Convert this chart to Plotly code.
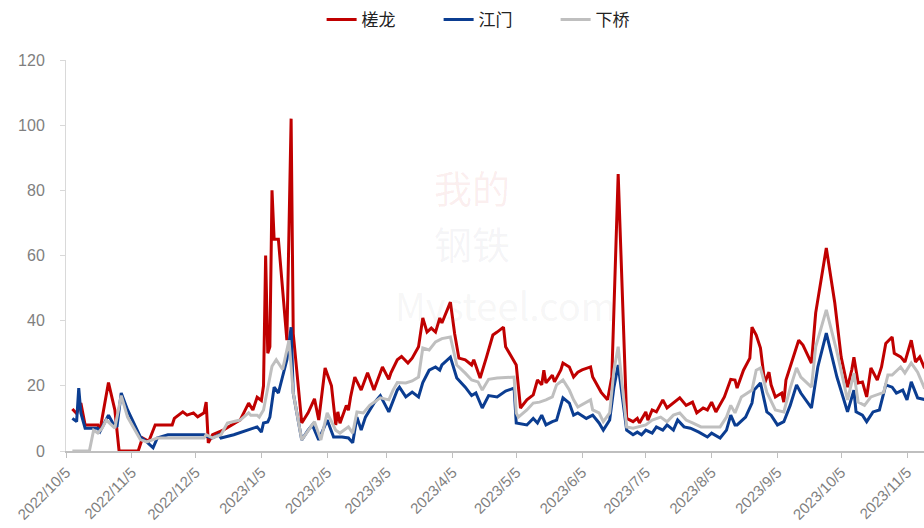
import plotly.graph_objects as go

# ---------------- data ----------------
tick_dates = ["2022-10-05", "2022-11-05", "2022-12-05", "2023-01-05", "2023-02-05", "2023-03-05",
              "2023-04-05", "2023-05-05", "2023-06-05", "2023-07-05", "2023-08-05", "2023-09-05",
              "2023-10-05", "2023-11-05"]
tick_labels = ["2022/10/5", "2022/11/5", "2022/12/5", "2023/1/5", "2023/2/5", "2023/3/5",
               "2023/4/5", "2023/5/5", "2023/6/5", "2023/7/5", "2023/8/5", "2023/9/5",
               "2023/10/5", "2023/11/5"]

series_names = ["槎龙", "江门", "下桥"]

red_dates = ["2022-10-08", "2022-10-10", "2022-10-12", "2022-10-14", "2022-10-20", "2022-10-21", "2022-10-25",
             "2022-10-28", "2022-10-30", "2022-11-08", "2022-11-10", "2022-11-13", "2022-11-16", "2022-11-24",
             "2022-11-25", "2022-11-28", "2022-11-29", "2022-12-01", "2022-12-04", "2022-12-06", "2022-12-09",
             "2022-12-10", "2022-12-11", "2022-12-13", "2022-12-18", "2022-12-26", "2022-12-30", "2023-01-01",
             "2023-01-03", "2023-01-05", "2023-01-06", "2023-01-07", "2023-01-08", "2023-01-09", "2023-01-10",
             "2023-01-11", "2023-01-13", "2023-01-17", "2023-01-19", "2023-01-20", "2023-01-24", "2023-01-27",
             "2023-01-30", "2023-02-01", "2023-02-04", "2023-02-07", "2023-02-09", "2023-02-10", "2023-02-11",
             "2023-02-14", "2023-02-15", "2023-02-16", "2023-02-18", "2023-02-21", "2023-02-24", "2023-02-27",
             "2023-03-03", "2023-03-06", "2023-03-07", "2023-03-10", "2023-03-12", "2023-03-15", "2023-03-17",
             "2023-03-20", "2023-03-22", "2023-03-24", "2023-03-26", "2023-03-28", "2023-03-30", "2023-03-31",
             "2023-04-04", "2023-04-06", "2023-04-08", "2023-04-11", "2023-04-14", "2023-04-15", "2023-04-18",
             "2023-04-21", "2023-04-24", "2023-04-26", "2023-04-29", "2023-04-30", "2023-05-03", "2023-05-05",
             "2023-05-07", "2023-05-10", "2023-05-13", "2023-05-15", "2023-05-17", "2023-05-18", "2023-05-19",
             "2023-05-22", "2023-05-23", "2023-05-26", "2023-05-27", "2023-05-30", "2023-06-01", "2023-06-03",
             "2023-06-05", "2023-06-09", "2023-06-10", "2023-06-12", "2023-06-14", "2023-06-17", "2023-06-19",
             "2023-06-22", "2023-06-26", "2023-06-29", "2023-07-01", "2023-07-02", "2023-07-05", "2023-07-06",
             "2023-07-08", "2023-07-10", "2023-07-13", "2023-07-15", "2023-07-18", "2023-07-21", "2023-07-24",
             "2023-07-27", "2023-07-29", "2023-08-01", "2023-08-03", "2023-08-05", "2023-08-07", "2023-08-11",
             "2023-08-14", "2023-08-16", "2023-08-17", "2023-08-20", "2023-08-23", "2023-08-24", "2023-08-26",
             "2023-08-28", "2023-08-30", "2023-09-01", "2023-09-02", "2023-09-04", "2023-09-07", "2023-09-08",
             "2023-09-09", "2023-09-11", "2023-09-14", "2023-09-15", "2023-09-17", "2023-09-21", "2023-09-23",
             "2023-09-28", "2023-10-02", "2023-10-05", "2023-10-08", "2023-10-10", "2023-10-11", "2023-10-13",
             "2023-10-15", "2023-10-17", "2023-10-19", "2023-10-22", "2023-10-24", "2023-10-26", "2023-10-29",
             "2023-10-30", "2023-11-02", "2023-11-04", "2023-11-07", "2023-11-09", "2023-11-11", "2023-11-13",
             "2023-11-14"]
red_values = [12.9, 11.5, 14.7, 8, 8, 6.4, 21,
              12.6, 0, 0, 4, 3, 8, 8,
              10, 11.7, 12, 11, 11.7, 10.5, 11.7,
              15, 2.5, 5, 6.4, 9.5, 14.7, 12.6,
              16.5, 15.5, 20, 60, 30, 32, 80,
              65, 65, 34, 102, 36, 8.6, 11.7,
              16, 9.5, 25.5, 20, 8, 12, 8.5,
              14, 12.5, 16.6, 22.7, 18.7, 24, 18.7,
              25.8, 22, 24, 28, 29, 27, 28.5,
              32, 40.8, 36.5, 37.7, 36.5, 40.8, 39.3,
              45.7, 36, 28.5, 28, 26.4, 28, 22.4,
              28.8, 35.6, 36.5, 38, 32, 28.8, 26.4,
              13.2, 15.7, 17.2, 21.8, 20.3, 24.8, 20.9,
              23.3, 21.2, 24.9, 27, 25.8, 22.7, 24.2,
              24.9, 25.8, 22.7, 20.3, 18, 15.7, 22.7,
              85, 10, 9, 10, 8.6, 12, 9.5,
              12.6, 12, 15.7, 13.2, 14.7, 16.3, 14,
              15, 11.7, 13.2, 12.6, 15, 12, 16.6,
              22, 21.8, 19.3, 24.8, 28.5, 38, 35.6,
              31.6, 20.9, 24.2, 20.3, 16.6, 17.8, 15,
              21.8, 25.8, 32, 34, 32.5, 27, 42.4,
              62.3, 45.4, 28.8, 19.6, 24.9, 28.8, 20.9,
              21.2, 16.6, 25.5, 21.8, 25.8, 33, 35,
              30, 28.9, 27.3, 34, 27.3, 28.9, 25.8,
              25]

blue_dates = ["2022-10-08", "2022-10-10", "2022-10-11", "2022-10-12", "2022-10-14", "2022-10-20", "2022-10-21",
              "2022-10-25", "2022-10-27", "2022-10-29", "2022-10-31", "2022-11-03", "2022-11-09", "2022-11-12",
              "2022-11-15", "2022-11-17", "2022-11-22", "2022-12-09", "2022-12-10", "2022-12-13", "2022-12-16",
              "2022-12-17", "2022-12-23", "2022-12-29", "2023-01-01", "2023-01-03", "2023-01-05", "2023-01-06",
              "2023-01-08", "2023-01-09", "2023-01-11", "2023-01-13", "2023-01-17", "2023-01-19", "2023-01-20",
              "2023-01-24", "2023-01-27", "2023-01-29", "2023-02-01", "2023-02-05", "2023-02-08", "2023-02-12",
              "2023-02-15", "2023-02-17", "2023-02-19", "2023-02-21", "2023-02-23", "2023-02-27", "2023-03-02",
              "2023-03-04", "2023-03-06", "2023-03-10", "2023-03-11", "2023-03-14", "2023-03-17", "2023-03-20",
              "2023-03-22", "2023-03-25", "2023-03-28", "2023-03-30", "2023-03-31", "2023-04-04", "2023-04-07",
              "2023-04-11", "2023-04-14", "2023-04-16", "2023-04-19", "2023-04-22", "2023-04-26", "2023-04-30",
              "2023-05-04", "2023-05-05", "2023-05-10", "2023-05-13", "2023-05-15", "2023-05-17", "2023-05-19",
              "2023-05-22", "2023-05-24", "2023-05-27", "2023-05-30", "2023-06-01", "2023-06-03", "2023-06-07",
              "2023-06-10", "2023-06-13", "2023-06-15", "2023-06-18", "2023-06-20", "2023-06-22", "2023-06-24",
              "2023-06-26", "2023-06-29", "2023-07-01", "2023-07-03", "2023-07-05", "2023-07-08", "2023-07-10",
              "2023-07-13", "2023-07-15", "2023-07-18", "2023-07-20", "2023-07-23", "2023-07-26", "2023-07-30",
              "2023-08-03", "2023-08-05", "2023-08-09", "2023-08-12", "2023-08-14", "2023-08-16", "2023-08-17",
              "2023-08-21", "2023-08-24", "2023-08-25", "2023-08-28", "2023-08-31", "2023-09-02", "2023-09-05",
              "2023-09-08", "2023-09-11", "2023-09-14", "2023-09-16", "2023-09-21", "2023-09-24", "2023-09-28",
              "2023-10-03", "2023-10-08", "2023-10-11", "2023-10-12", "2023-10-15", "2023-10-17", "2023-10-20",
              "2023-10-23", "2023-10-26", "2023-10-29", "2023-10-31", "2023-11-03", "2023-11-05", "2023-11-07",
              "2023-11-10", "2023-11-13", "2023-11-14"]
blue_values = [10, 9, 19.3, 11.7, 7, 7, 6,
               11, 8.6, 7.4, 17.8, 12.6, 4.3, 2.8,
               1, 4, 5, 5, 4.5, 4, 5,
               4, 5, 6.4, 7, 7.4, 5.8, 8.6,
               8.9, 10.4, 19.6, 17.8, 28, 38, 17.8,
               3.4, 6.4, 8, 3.4, 9.5, 4.3, 4.3,
               4, 2.5, 10.4, 6.4, 10.4, 14.7, 17,
               14.7, 12, 18.7, 19.6, 16.6, 18.1, 16.6,
               21, 24.8, 25.8, 24.8, 26.4, 28.8, 22.4,
               19.6, 17, 17.8, 13.2, 17, 16.6, 18.4,
               19.3, 8.6, 8, 10, 8.6, 11, 8,
               9, 9.5, 16.3, 14.7, 11, 11.7, 10,
               11, 8.6, 6.4, 9.5, 19.6, 26.4, 15.7,
               6.4, 5, 5.8, 5, 6.4, 5.5, 7.4,
               6.4, 8, 6.4, 9.5, 7.4, 7, 5.8,
               4.3, 5.5, 4, 6.4, 11, 8, 8,
               10.4, 14.7, 18.7, 20.9, 12, 11, 8,
               9, 14, 20.3, 17.8, 13.2, 25.8, 36.2,
               22.7, 12, 18.7, 12, 11, 9, 12,
               12.6, 20.3, 19.6, 17.8, 18.7, 15.7, 21.2,
               16.3, 15.7, 15.7]

gray_dates = ["2022-10-08", "2022-10-16", "2022-10-18", "2022-10-20", "2022-10-22", "2022-10-24", "2022-10-28",
              "2022-10-31", "2022-11-03", "2022-11-09", "2022-11-12", "2022-11-17", "2022-12-09", "2022-12-10",
              "2022-12-13", "2022-12-17", "2022-12-20", "2022-12-26", "2022-12-30", "2022-12-31", "2023-01-03",
              "2023-01-04", "2023-01-06", "2023-01-10", "2023-01-12", "2023-01-15", "2023-01-18", "2023-01-20",
              "2023-01-24", "2023-01-28", "2023-01-30", "2023-02-02", "2023-02-05", "2023-02-09", "2023-02-11",
              "2023-02-15", "2023-02-17", "2023-02-19", "2023-02-22", "2023-02-25", "2023-03-02", "2023-03-06",
              "2023-03-08", "2023-03-10", "2023-03-14", "2023-03-17", "2023-03-20", "2023-03-22", "2023-03-25",
              "2023-03-28", "2023-03-31", "2023-04-04", "2023-04-07", "2023-04-11", "2023-04-14", "2023-04-17",
              "2023-04-19", "2023-04-22", "2023-04-26", "2023-05-04", "2023-05-05", "2023-05-06", "2023-05-10",
              "2023-05-13", "2023-05-16", "2023-05-19", "2023-05-22", "2023-05-24", "2023-05-27", "2023-05-30",
              "2023-06-01", "2023-06-03", "2023-06-06", "2023-06-09", "2023-06-10", "2023-06-13", "2023-06-15",
              "2023-06-18", "2023-06-20", "2023-06-22", "2023-06-24", "2023-06-26", "2023-06-29", "2023-07-02",
              "2023-07-05", "2023-07-08", "2023-07-12", "2023-07-15", "2023-07-18", "2023-07-21", "2023-07-24",
              "2023-07-27", "2023-07-31", "2023-08-04", "2023-08-09", "2023-08-12", "2023-08-14", "2023-08-16",
              "2023-08-19", "2023-08-24", "2023-08-26", "2023-08-28", "2023-08-31", "2023-09-04", "2023-09-08",
              "2023-09-11", "2023-09-14", "2023-09-16", "2023-09-21", "2023-09-23", "2023-09-28", "2023-10-03",
              "2023-10-08", "2023-10-11", "2023-10-13", "2023-10-16", "2023-10-19", "2023-10-25", "2023-10-27",
              "2023-10-29", "2023-11-02", "2023-11-04", "2023-11-07", "2023-11-10", "2023-11-13", "2023-11-14"]
gray_values = [0, 0, 6.4, 5.5, 7, 9.5, 7,
               17, 10.4, 3.5, 2.8, 4, 4, 5,
               4, 5, 8.6, 9.5, 11.7, 11, 11,
               10.4, 12.6, 26, 28, 25, 34, 17.8,
               3.4, 7.4, 9, 3.4, 11.7, 6.4, 5.5,
               7.4, 5.5, 12, 11.7, 14, 16.3, 15.7,
               18.7, 21, 20.9, 21.5, 22.7, 31.6, 31,
               33.5, 34.5, 35, 26.4, 23.9, 21.8, 21.2,
               18.7, 22, 22.4, 22.7, 11.7, 10.4, 12.6,
               14.7, 15, 15.7, 16.6, 20.3, 21.8, 18.7,
               15.7, 13.5, 14.7, 15.7, 12.6, 11.7, 9,
               11.7, 24.8, 32, 19.6, 7.4, 7, 7.4,
               8, 9.5, 10.4, 9, 11, 11.7, 9.5,
               8.6, 7.4, 7.4, 7.4, 10.4, 14, 11.7,
               16.6, 18.7, 24.8, 25.5, 18, 12.6, 12,
               19.3, 25.5, 22.7, 19.6, 32, 43.3, 30.4,
               15.7, 23.9, 15, 14, 16.6, 18, 23.3,
               23.3, 25.8, 23.9, 27, 24.2, 19.6, 20]

series_colors = ["#C00000", "#0B3D91", "#BFBFBF"]

# ---------------- figure ----------------
fig = go.Figure()
for name, xs, ys, col in zip(series_names,
                             [red_dates, blue_dates, gray_dates],
                             [red_values, blue_values, gray_values],
                             series_colors):
    fig.add_trace(go.Scatter(x=xs, y=ys, name=name, mode="lines",
                             line=dict(color=col, width=3)))

# faint watermark
wm = [("我的", 472, 186, 38, "rgba(192,0,0,0.07)"),
      ("钢铁", 472, 242, 38, "rgba(110,110,140,0.07)"),
      ("Mysteel.com", 505, 304, 38, "rgba(140,140,140,0.08)")]
for t, px, py, sz, c in wm:
    fig.add_annotation(text=t, xref="paper", yref="paper",
                       x=(px - 66) / (924 - 66), y=(451 - py) / 391,
                       showarrow=False,
                       font=dict(size=sz, family="Noto Sans CJK SC", color=c),
                       xanchor="center", yanchor="middle")

fig.update_layout(
    width=924, height=528,
    paper_bgcolor="white", plot_bgcolor="white",
    margin=dict(l=66, r=0, t=60, b=77, autoexpand=False),
    font=dict(family="Liberation Sans, Arial, sans-serif", color="#595959"),
    showlegend=True,
    legend=dict(orientation="h", xref="container", yref="container",
                x=0.538, y=0.962, xanchor="center", yanchor="middle",
                font=dict(size=17, color="#222222", family="Noto Sans CJK SC"),
                entrywidth=72, entrywidthmode="pixels", traceorder="normal"),
    xaxis=dict(type="date", range=["2022-10-05", "2023-11-13"], automargin=False,
               tickvals=tick_dates, ticktext=tick_labels, tickangle=-45,
               tickfont=dict(size=15, color="#7F7F7F"),
               showgrid=False, zeroline=False,
               showline=True, linecolor="#BFBFBF", linewidth=1.5,
               ticks="outside", ticklen=5, tickcolor="#BFBFBF"),
    yaxis=dict(range=[0, 120], tickvals=[0, 20, 40, 60, 80, 100, 120], automargin=False,
               tickfont=dict(size=16, color="#7F7F7F"),
               showgrid=False, zeroline=False,
               showline=True, linecolor="#D9D9D9", linewidth=1,
               ticks="outside", ticklen=5, tickcolor="#D9D9D9",
               ticklabelstandoff=12),
)

fig.write_html("out.html", config={"displayModeBar": False},
               post_script="document.body.style.margin='0';document.body.style.overflow='hidden';")
